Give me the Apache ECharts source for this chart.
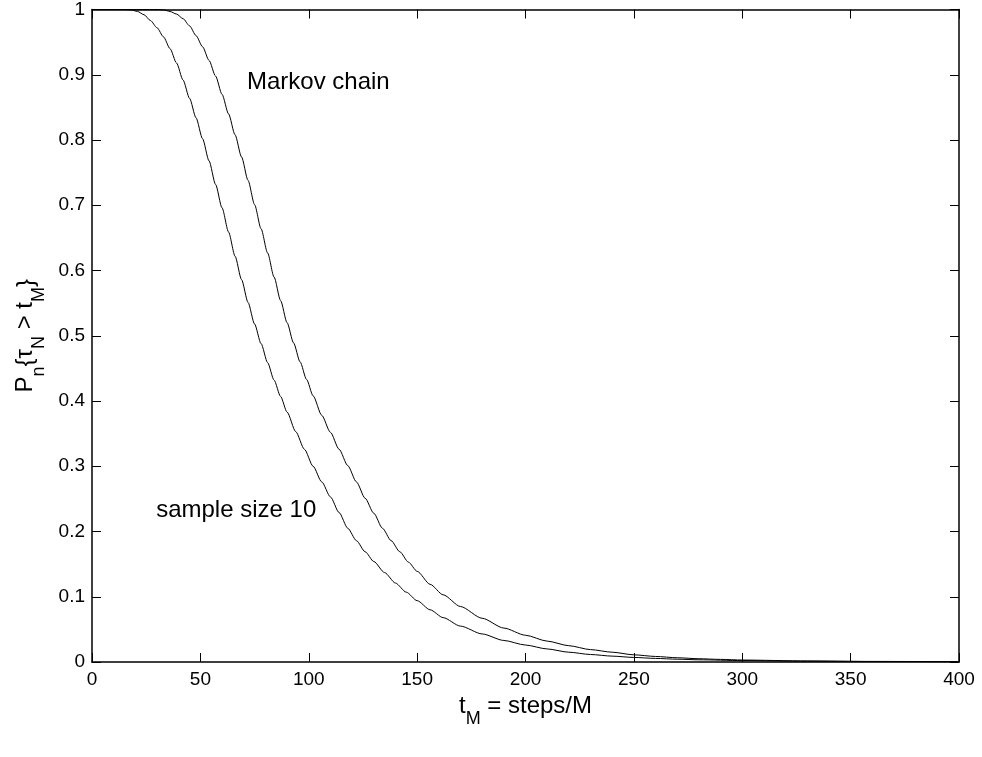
<!DOCTYPE html>
<html><head><meta charset="utf-8">
<script src="https://cdn.jsdelivr.net/npm/echarts@6/dist/echarts.min.js"></script>
<style>html,body{margin:0;padding:0;background:#fff}#c{width:982px;height:757px}</style>
</head><body><div id="c"></div>
<script>
const xTicks = [0, 50, 100, 150, 200, 250, 300, 350, 400];
const yTicks = [0, 0.1, 0.2, 0.3, 0.4, 0.5, 0.6, 0.7, 0.8, 0.9, 1];

const sampleT = [0,15,18,21,24,27,30,33,36,39,42,45,48,51,54,57,60,63,66,69,72,75,78,81,84,87,90,94,98,102,106,110,114,118,122,126,130,135,140,145,150,156,162,170,180,190,200,210,220,230,240,250,260,270,280,300,330,360,400];
const sampleP = [1,1,0.9995,0.997,0.992,0.983,0.972,0.958,0.94,0.918,0.892,0.864,0.834,0.802,0.768,0.732,0.696,0.659,0.622,0.586,0.551,0.518,0.488,0.459,0.432,0.407,0.383,0.353,0.326,0.3,0.276,0.253,0.229,0.205,0.186,0.169,0.154,0.137,0.121,0.107,0.094,0.08,0.068,0.055,0.043,0.033,0.026,0.02,0.015,0.0115,0.009,0.007,0.0055,0.0043,0.0034,0.0022,0.0012,0.0007,0.0004];

const markovT = [0,30,33,36,39,42,45,48,51,54,57,60,63,66,69,72,75,78,81,84,87,90,93,96,99,102,106,110,114,118,122,126,130,134,138,142,146,150,156,162,170,180,190,200,210,220,230,240,250,260,270,280,290,300,330,360,400];
const markovP = [1,1,0.9995,0.997,0.993,0.986,0.975,0.96,0.943,0.922,0.898,0.87,0.84,0.808,0.774,0.738,0.701,0.664,0.627,0.59,0.554,0.52,0.489,0.46,0.433,0.408,0.378,0.352,0.326,0.301,0.276,0.251,0.228,0.205,0.186,0.169,0.153,0.139,0.119,0.103,0.085,0.067,0.052,0.041,0.032,0.025,0.019,0.015,0.011,0.0085,0.0065,0.005,0.004,0.003,0.0016,0.0009,0.0005];

const annotations = [
  { text: 'Markov chain', t: 71.5, p: 0.888 },
  { text: 'sample size 10', t: 29.6, p: 0.233 }
];

const FONT = '"Liberation Sans", Helvetica, Arial, sans-serif';
const rich = {
  t: { fontFamily: FONT, fontSize: 24, color: '#000', lineHeight: 26, verticalAlign: 'top' },
  s: { fontFamily: FONT, fontSize: 18, color: '#000', lineHeight: 18, verticalAlign: 'top', padding: [16, 0, 0, 0] }
};
const axisLineStyle = { color: '#000', width: 1.5 };

function mkX(pos, showLabel) {
  return {
    type: 'value', position: pos, min: xTicks[0], max: xTicks[xTicks.length - 1], interval: 50,
    axisLine: { show: true, onZero: false, lineStyle: axisLineStyle },
    axisTick: { show: true, inside: true, length: 9, lineStyle: { color: '#000', width: 1 } },
    axisLabel: { show: showLabel, fontFamily: FONT, fontSize: 19, color: '#000', margin: 8 },
    splitLine: { show: false }
  };
}
function mkY(pos, showLabel) {
  return {
    type: 'value', position: pos, min: yTicks[0], max: yTicks[yTicks.length - 1], interval: 0.1,
    axisLine: { show: true, onZero: false, lineStyle: axisLineStyle },
    axisTick: { show: true, inside: true, length: 9, lineStyle: { color: '#000', width: 1 } },
    axisLabel: { show: showLabel, fontFamily: FONT, fontSize: 19, color: '#000', margin: 7,
      formatter: v => (Math.abs(v) < 1e-9 ? '0' : Math.abs(v - 1) < 1e-9 ? '1' : v.toFixed(1)) },
    splitLine: { show: false }
  };
}

const xBottom = mkX('bottom', true);
xBottom.name = '{t|t}{s|M}{t| = steps/M}';
xBottom.nameLocation = 'middle';
xBottom.nameGap = 27;
xBottom.nameTextStyle = { rich: rich };

const yLeft = mkY('left', true);
yLeft.name = '{t|P}{s|n}{t|{τ}{s|N}{t| > t}{s|M}{t|}}';
yLeft.nameLocation = 'middle';
yLeft.nameGap = 46;
yLeft.nameTextStyle = { rich: rich, fontFamily: FONT, fontSize: 24, color: '#000' };

const chart = echarts.init(document.getElementById('c'), null, { renderer: 'canvas' });
chart.setOption({
  animation: false,
  backgroundColor: '#fff',
  grid: { left: 92, right: 23, top: 5, bottom: 95, containLabel: false },
  xAxis: [xBottom, mkX('top', false)],
  yAxis: [yLeft, mkY('right', false)],
  series: [
    { name: 'sample size 10', type: 'line', xAxisIndex: 0, yAxisIndex: 0, showSymbol: false,
      smooth: 0.25, smoothMonotone: 'x',
      lineStyle: { color: '#000', width: 1 }, data: sampleT.map((t, i) => [t, sampleP[i]]) },
    { name: 'Markov chain', type: 'line', xAxisIndex: 0, yAxisIndex: 0, showSymbol: false,
      smooth: 0.25, smoothMonotone: 'x',
      lineStyle: { color: '#000', width: 1 }, data: markovT.map((t, i) => [t, markovP[i]]) }
  ]
});
chart.setOption({
  graphic: annotations.map(a => {
    const pt = chart.convertToPixel({ xAxisIndex: 0, yAxisIndex: 0 }, [a.t, a.p]);
    return { type: 'text', x: pt[0], y: pt[1],
      style: { text: a.text, fontFamily: FONT, fontSize: 24, fill: '#000', verticalAlign: 'middle', align: 'left' } };
  })
});
</script></body></html>
